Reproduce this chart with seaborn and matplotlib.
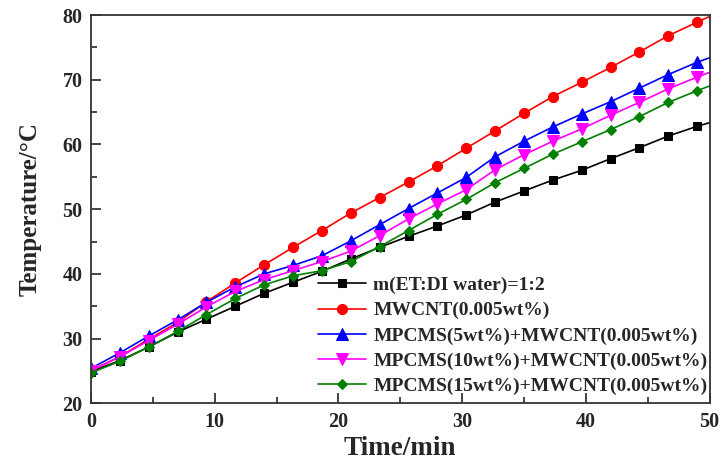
import matplotlib
matplotlib.use("Agg")
import matplotlib.pyplot as plt
import seaborn as sns
import pandas as pd
from matplotlib.ticker import MultipleLocator

# ---- data ----
time_min = [0, 2.33, 4.67, 7, 9.33, 11.67, 14, 16.33, 18.67, 21, 23.33,
            25.67, 28, 30.33, 32.67, 35, 37.33, 39.67, 42, 44.33, 46.67, 49, 51.33]

base_fluid = [24.9, 26.6, 28.7, 31.0, 33.0, 35.0, 37.0, 38.7, 40.4, 42.3, 44.1,
              45.8, 47.4, 49.1, 51.1, 52.8, 54.5, 56.0, 57.8, 59.5, 61.3, 62.8, 64.1]
mwcnt = [25.1, 27.2, 29.9, 32.5, 35.7, 38.6, 41.4, 44.1, 46.7, 49.4, 51.8,
         54.2, 56.7, 59.4, 62.1, 64.8, 67.4, 69.6, 71.9, 74.3, 76.8, 78.9, 80.9]
mpcms5 = [25.4, 27.8, 30.4, 32.9, 35.6, 38.0, 40.0, 41.3, 42.8, 45.1, 47.6,
          50.1, 52.5, 54.9, 58.1, 60.5, 62.7, 64.7, 66.6, 68.7, 70.8, 72.7, 74.3]
mpcms10 = [25.0, 27.2, 29.7, 32.2, 34.9, 37.3, 39.1, 40.5, 41.9, 43.5, 45.9,
           48.5, 50.8, 53.0, 56.1, 58.4, 60.5, 62.4, 64.5, 66.5, 68.6, 70.4, 72.1]
mpcms15 = [24.7, 26.5, 28.7, 31.1, 33.7, 36.2, 38.3, 39.7, 40.5, 41.9, 44.2,
           46.7, 49.2, 51.5, 54.1, 56.3, 58.5, 60.4, 62.3, 64.3, 66.5, 68.3, 70.0]

labels = ["m(ET:DI water)=1:2",
          "MWCNT(0.005wt%)",
          "MPCMS(5wt%)+MWCNT(0.005wt%)",
          "MPCMS(10wt%)+MWCNT(0.005wt%)",
          "MPCMS(15wt%)+MWCNT(0.005wt%)"]
series = [base_fluid, mwcnt, mpcms5, mpcms10, mpcms15]
colors = ["#000000", "#ff0000", "#0000ff", "#ff00ff", "#008000"]
markers = ["s", "o", "^", "v", "D"]
msizes = [6.3, 7.3, 8.0, 8.0, 5.6]

x_ticks = [0, 10, 20, 30, 40, 50]
y_ticks = [20, 30, 40, 50, 60, 70, 80]

# ---- plotting ----
sns.set_theme(style="ticks")
plt.rcParams["font.family"] = ["Liberation Serif", "DejaVu Serif"]
plt.rcParams["font.weight"] = "bold"

fig = plt.figure(figsize=(7.23, 4.62), dpi=100)
ax = fig.add_axes([91 / 723, 1 - 403.3 / 462, (709.5 - 91) / 723, (403.3 - 15) / 462])

for vals, lab, c, m, ms in zip(series, labels, colors, markers, msizes):
    df = pd.DataFrame({"t": time_min, "T": vals})
    sns.lineplot(data=df, x="t", y="T", ax=ax, color=c, marker=m, markersize=ms,
                 markeredgecolor=c, markerfacecolor=c, linewidth=1.2, label=lab)

ax.set_xlim(0, 50)
ax.set_ylim(20, 80)
ax.set_xticks(x_ticks)
ax.set_yticks(y_ticks)
ax.xaxis.set_minor_locator(MultipleLocator(5))
ax.yaxis.set_minor_locator(MultipleLocator(5))
ax.tick_params(which="major", direction="in", length=7, width=1.2, labelsize=14.5,
               pad=6, top=False, right=False)
ax.tick_params(which="minor", direction="in", length=4, width=1.2, top=False, right=False)
for lab in ax.get_xticklabels() + ax.get_yticklabels():
    lab.set_fontweight("bold")
for sp in ax.spines.values():
    sp.set_linewidth(1.3)
    sp.set_color("#333333")
    sp.set_visible(True)

ax.set_xlabel("Time/min", fontsize=19.5, fontweight="bold", labelpad=3)
ax.set_ylabel("Temperature/\u00b0C", fontsize=18, fontweight="bold", labelpad=15)

leg = ax.legend(loc="upper left", bbox_to_anchor=(318 / 723, 1 - 276.5 / 462),
                bbox_transform=fig.transFigure, frameon=False, borderpad=0,
                borderaxespad=0, handlelength=2.45, handletextpad=0.4,
                labelspacing=0.39, prop={"family": "Liberation Serif",
                                          "weight": "bold", "size": 14})

fig.savefig("out.png", dpi=100)
